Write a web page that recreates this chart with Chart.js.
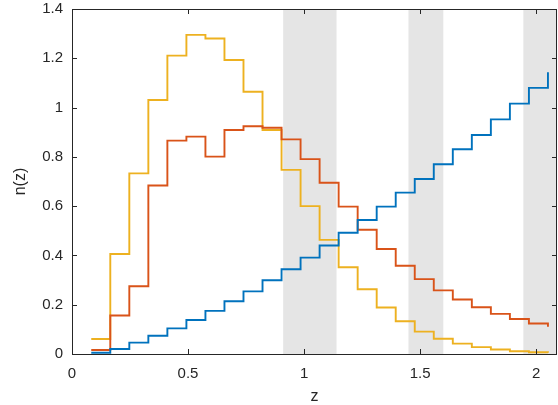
<!DOCTYPE html>
<html>
<head>
<meta charset="utf-8">
<script src="https://cdn.jsdelivr.net/npm/chart.js@4.4.0/dist/chart.umd.min.js"></script>
<style>
  html, body { margin: 0; padding: 0; background: #fff; }
  #wrap { width: 558px; height: 405px; }
</style>
</head>
<body>
<div id="wrap"><canvas id="nzChart" width="558" height="405"></canvas></div>
<script>
// bin edges in z (stairs: value i holds from zEdges[i] to zEdges[i+1])
const zEdges = [0.083, 0.165, 0.247, 0.329, 0.411, 0.493, 0.575, 0.657, 0.739, 0.821,
  0.903, 0.985, 1.067, 1.149, 1.231, 1.313, 1.395, 1.477, 1.559, 1.641,
  1.723, 1.805, 1.887, 1.969, 2.051]

const nzBlue = [0.005, 0.020, 0.046, 0.074, 0.104, 0.138, 0.175, 0.214, 0.254, 0.299,
  0.344, 0.391, 0.440, 0.492, 0.544, 0.598, 0.655, 0.710, 0.770, 0.831,
  0.889, 0.952, 1.016, 1.080, 1.143]
const nzRed = [0.016, 0.156, 0.275, 0.684, 0.866, 0.882, 0.801, 0.909, 0.924, 0.918,
  0.871, 0.791, 0.695, 0.598, 0.504, 0.426, 0.358, 0.304, 0.258, 0.221,
  0.190, 0.163, 0.142, 0.124, 0.111]
const nzYellow = [0.061, 0.406, 0.733, 1.031, 1.211, 1.295, 1.280, 1.193, 1.064, 0.909,
  0.747, 0.600, 0.463, 0.352, 0.263, 0.189, 0.133, 0.091, 0.062, 0.042,
  0.028, 0.018, 0.011, 0.007, 0.005]

// shaded z ranges
const bandStart = [0.91, 1.45, 1.945]
const bandEnd = [1.14, 1.60, 2.09]

const xTicks = [0, 0.5, 1, 1.5, 2]
const yTicks = [0, 0.2, 0.4, 0.6, 0.8, 1, 1.2, 1.4]

const AXIS = "#262626"
const FONT = "'Liberation Sans', Arial, Helvetica, sans-serif"

const toPoints = (vals) => zEdges.map((z, i) => ({ x: z, y: vals[i] }))
const fmt = (v) => String(+Number(v).toFixed(2))

const bandsPlugin = {
  id: "bands",
  beforeDatasetsDraw(chart) {
    const { ctx, chartArea, scales } = chart
    ctx.save()
    ctx.fillStyle = "#e5e5e5"
    bandStart.forEach((a, i) => {
      const l = scales.x.getPixelForValue(a)
      const r = Math.min(scales.x.getPixelForValue(bandEnd[i]), chartArea.right)
      ctx.fillRect(l, chartArea.top, r - l, chartArea.bottom - chartArea.top)
    })
    ctx.restore()
  },
}

// box round the axes with inward ticks on all four sides
const boxPlugin = {
  id: "box",
  afterDraw(chart) {
    const { ctx, chartArea: a, scales } = chart
    const len = 5
    ctx.save()
    ctx.strokeStyle = AXIS
    ctx.lineWidth = 1
    ctx.beginPath()
    ctx.rect(Math.round(a.left) + 0.5, Math.round(a.top) + 0.5,
      Math.round(a.right - a.left) - 1, Math.round(a.bottom - a.top))
    xTicks.forEach((v) => {
      const px = Math.round(scales.x.getPixelForValue(v)) + 0.5
      ctx.moveTo(px, a.bottom); ctx.lineTo(px, a.bottom - len)
      ctx.moveTo(px, a.top); ctx.lineTo(px, a.top + len)
    })
    yTicks.forEach((v) => {
      const py = Math.round(scales.y.getPixelForValue(v)) + 0.5
      ctx.moveTo(a.left, py); ctx.lineTo(a.left + len, py)
      ctx.moveTo(a.right, py); ctx.lineTo(a.right - len, py)
    })
    ctx.stroke()
    ctx.restore()
  },
}

const line = (data, color) => ({
  data: toPoints(data),
  borderColor: color,
  borderWidth: 1.9,
  stepped: true,
  pointRadius: 0,
  fill: false,
})

new Chart(document.getElementById("nzChart"), {
  type: "line",
  data: {
    datasets: [
      line(nzBlue, "#0072BD"),
      line(nzRed, "#D95319"),
      line(nzYellow, "#EDB120"),
    ],
  },
  options: {
    responsive: false,
    animation: false,
    devicePixelRatio: 1,
    layout: { padding: { top: 9, right: 1, left: 0, bottom: 0 } },
    plugins: { legend: { display: false }, tooltip: { enabled: false } },
    scales: {
      x: {
        type: "linear",
        min: 0,
        max: 2.09,
        grid: { display: false, drawTicks: false },
        border: { display: false },
        afterBuildTicks: (s) => { s.ticks = xTicks.map((v) => ({ value: v })) },
        afterFit: (s) => { s.height = 51; s.paddingLeft = 0; s.paddingRight = 0 },
        ticks: { color: AXIS, font: { family: FONT, size: 15 }, padding: 11, maxRotation: 0, autoSkip: false, callback: fmt },
        title: { display: true, text: "z", color: AXIS, font: { family: FONT, size: 16 }, padding: { top: 0, bottom: -1 } },
      },
      y: {
        min: 0,
        max: 1.4,
        grid: { display: false, drawTicks: false },
        border: { display: false },
        afterBuildTicks: (s) => { s.ticks = yTicks.map((v) => ({ value: v })) },
        afterFit: (s) => { s.width = 72; s.paddingTop = 0; s.paddingBottom = 0 },
        ticks: { color: AXIS, font: { family: FONT, size: 15 }, padding: 9, autoSkip: false, callback: fmt },
        title: { display: true, text: "n(z)", color: AXIS, font: { family: FONT, size: 16 }, padding: { top: 11, bottom: 0 } },
      },
    },
  },
  plugins: [bandsPlugin, boxPlugin],
})
</script>
</body>
</html>
